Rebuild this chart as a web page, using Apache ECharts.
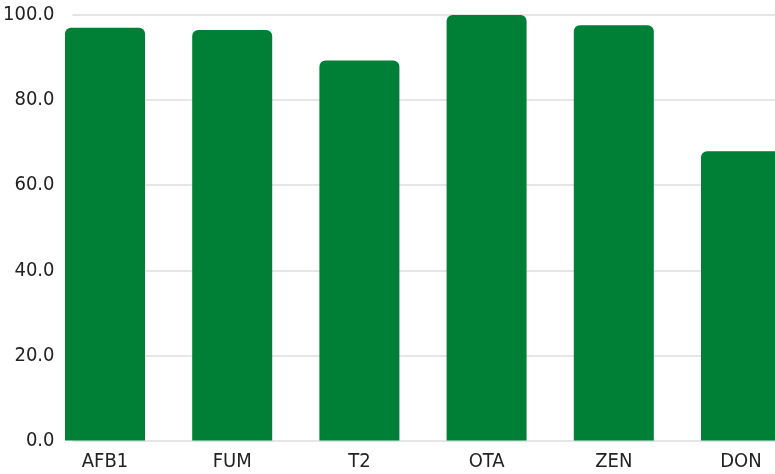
<!DOCTYPE html>
<html><head><meta charset="utf-8">
<script src="https://cdn.jsdelivr.net/npm/echarts@6/dist/echarts.min.js"></script>
<style>html,body{margin:0;padding:0;background:#fff;overflow:hidden;width:775px;height:474px}#c{width:805px;height:474px}</style>
</head><body><div id="c"></div>
<script>
const categories = ['AFB1','FUM','T2','OTA','ZEN','DON'];
const values = [97.0, 96.5, 89.3, 100.0, 97.6, 68.0];
const yTicks = [0, 20, 40, 60, 80, 100];

const FONT = '"Liberation Sans Narrow", "DejaVu Sans Condensed", sans-serif';
const chart = echarts.init(document.getElementById('c'), null, {renderer:'canvas'});
chart.setOption({
  animation:false,
  grid:[
    {left:65, right:30, top:15, bottom:33.5},
    {left:41.4, width:763.2, top:15, bottom:33.5}
  ],
  xAxis:[
    {gridIndex:0, type:'category', data:categories, show:false},
    {gridIndex:1, type:'category', data:categories,
     axisLine:{show:false}, axisTick:{show:false},
     axisLabel:{color:'#222', fontFamily:FONT, fontWeight:'condensed', fontSize:20, margin:11}}
  ],
  yAxis:[
    {gridIndex:0, type:'value', min:yTicks[0], max:yTicks[yTicks.length-1], interval:20,
     axisLine:{show:false}, axisTick:{show:false},
     axisLabel:{color:'#222', fontFamily:FONT, fontWeight:'condensed', fontSize:20, margin:18, formatter:v=>v.toFixed(1)},
     splitLine:{lineStyle:{color:'#dcdcdc', width:1.5}}},
    {gridIndex:1, type:'value', min:0, max:100, show:false}
  ],
  series:[{
    type:'bar', xAxisIndex:1, yAxisIndex:1, data:values, barWidth:80,
    itemStyle:{color:'#007f36', borderRadius:[6,6,0,0]}
  }]
});
</script></body></html>
